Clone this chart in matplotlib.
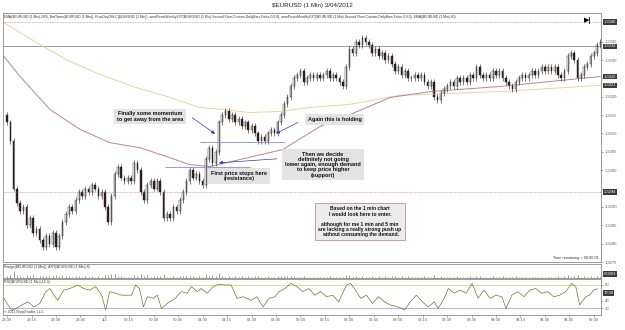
import numpy as np
import matplotlib.pyplot as plt
from matplotlib.transforms import blended_transform_factory

plt.rcParams['font.family'] = ['Liberation Sans', 'DejaVu Sans']

# price data: 2-minute bars starting 23:00, closes in pips above 1.3275
BASE = 1.3275
first_open_pips = 40
close_pips = [
    38, 33, 20, 16, 14, 15, 10, 12, 8, 9,
    6, 4, 7, 5, 8, 4, 7, 11, 13, 15,
    14, 17, 19, 18, 20, 19, 21, 20, 18, 19,
    15, 11, 18, 24, 26, 23, 22, 23, 22, 27,
    25, 19, 17, 21, 22, 20, 22, 19, 12, 13,
    12, 15, 14, 17, 19, 22, 25, 23, 24, 22,
    21, 28, 31, 27, 30, 38, 40, 41, 39, 40,
    38, 39, 37, 38, 36, 37, 35, 33, 34, 33,
    35, 36, 35, 38, 40, 43, 45, 48, 50, 51,
    52, 49, 50, 51, 50, 51, 50, 51, 52, 50,
    51, 50, 49, 48, 53, 58, 57, 60, 59, 61,
    60, 59, 57, 58, 56, 57, 55, 56, 54, 52,
    53, 51, 52, 50, 50, 51, 50, 51, 49, 48,
    49, 45, 44, 46, 47, 48, 49, 48, 50, 49,
    50, 49, 51, 50, 53, 51, 50, 51, 50, 52,
    51, 52, 50, 49, 48, 47, 49, 50, 51, 50,
    51, 52, 51, 52, 53, 52, 53, 52, 53, 51,
    50, 52, 56, 57, 55, 50, 51, 53, 54, 56,
    57, 59, 60,
]
wick_pips = 0.8

# moving averages (minute, price)
ema200_min = [-2.5, 22, 38.7, 57, 77, 98, 118, 132.5, 149, 167.5, 186, 210, 241, 302.5, 364]
ema200_val = [1.33403, 1.33337, 1.33296, 1.33261, 1.33228, 1.33201, 1.33171, 1.33165,
              1.33157, 1.33160, 1.33171, 1.33179, 1.33204, 1.33214, 1.33231]
ema90_min = [-2.5, 8, 26.4, 44.8, 63, 81.6, 98, 112, 124.5, 169, 192, 215, 235, 259.5, 302.5, 364]
ema90_val = [1.33313, 1.33255, 1.33165, 1.33111, 1.33075, 1.33061, 1.33037, 1.33015,
             1.33010, 1.33056, 1.33119, 1.33160, 1.33198, 1.33214, 1.33228, 1.33255]

# RSI (minute, value)
rsi_min = [-1.9, 0.6, 3.0, 5.5, 9.1, 12.8, 16.5, 20.1, 23.8, 26.3, 28.7, 31.1, 34.8, 38.5,
           43.4, 47.0, 50.7, 54.4, 58.0, 60.5, 62.9, 66.6, 70.2, 73.9, 76.4, 78.8, 81.2,
           83.7, 86.1, 89.8, 92.2, 94.7, 98.3, 103.2, 106.9, 110.6, 113.0, 116.7, 119.1,
           122.8, 126.5, 130.1, 133.8, 137.5, 141.1, 144.8, 149.7, 153.3, 157.0, 160.7,
           164.3, 166.8, 170.5, 174.1, 177.8, 181.4, 185.1, 188.8, 192.4, 196.1, 199.8,
           203.4, 208.3, 210.8, 214.4, 216.9, 220.5, 224.2, 227.9, 231.5, 235.2, 240.1,
           243.8, 247.4, 251.1, 254.8, 258.4, 262.1, 264.5, 268.2, 270.7, 274.3, 278.0,
           281.6, 285.3, 289.0, 292.6, 296.3, 300.0, 303.6, 306.1, 309.7, 313.4, 317.1,
           320.7, 324.4, 328.1, 331.7, 335.4, 339.1, 342.7, 346.4, 348.9, 351.3, 355.0,
           357.4, 359.9, 362.3]
rsi_val = [46, 29, 16, 20, 29, 37, 24, 33, 63, 71, 54, 41, 67, 71,
           80, 71, 67, 76, 54, 16, 63, 59, 54, 54, 54, 80, 71,
           24, 50, 46, 54, 20, 33, 46, 63, 59, 76, 63, 71,
           59, 76, 82, 80, 80, 46, 50, 41, 50, 24, 46,
           50, 63, 71, 84, 76, 63, 71, 54, 63, 50, 54,
           37, 80, 84, 63, 46, 54, 33, 50, 37, 29, 24,
           16, 37, 54, 37, 24, 37, 20, 46, 71, 59, 67,
           59, 84, 46, 67, 46, 54, 50, 20, 54, 63, 50,
           67, 71, 59, 63, 50, 54, 63, 84, 76, 29, 50,
           54, 67, 70]

prior_high = 1.33403
prior_low = 1.32941
last_price = 1.33337

tick_minutes = list(range(0, 361, 15))
tick_labels = ["23:00", "23:15", "23:30", "23:45", "4/3", "00:15", "00:30", "00:45",
               "01:00", "01:15", "01:30", "01:45", "02:00", "02:15", "02:30", "02:45",
               "03:00", "03:15", "03:30", "03:45", "04:00", "04:15", "04:30", "04:45", "05:00"]
price_ticks = [1.3275 + 0.0005 * k for k in range(13)]
hidden_ticks = [1.3295, 1.3325]

header = ("EMA($EURUSD (1 Min),200), BarTimer($EURUSD (1 Min)), PriorDayOHLC($EURUSD (1 Min)), "
          "amaPivotsWeeklyV37($EURUSD (1 Min),Second Floor,Custom,DailyBars,False,0,0,0), "
          "amaPivotsMonthlyV37($EURUSD (1 Min),Second Floor,Custom,DailyBars,False,0,0,0), "
          "EMA($EURUSD (1 Min),90)")

closes = BASE + np.array(close_pips) / 10000
opens = np.r_[BASE + first_open_pips / 10000, closes[:-1]]
highs = np.maximum(opens, closes) + wick_pips / 10000
lows = np.minimum(opens, closes) - wick_pips / 10000
bar_min = np.arange(len(closes)) * 2.0

fig = plt.figure(figsize=(6.25, 3.3), dpi=100)
fig.patch.set_facecolor('white')
L, W = 3 / 625, 598 / 625
ax = fig.add_axes([L, 1 - 262 / 330, W, 249 / 330])
axv = fig.add_axes([L, 1 - 278 / 330, W, 14 / 330])
axr = fig.add_axes([L, 1 - 315 / 330, W, 36 / 330])

XL = (-2.5, 364.4)
for a in (ax, axv, axr):
    a.set_xlim(*XL)
    for s in a.spines.values():
        s.set_color('#8c8c8c')
        s.set_linewidth(0.6)
    a.yaxis.tick_right()
    a.tick_params(axis='y', labelsize=3, colors='#606060', length=1.5, width=0.4, pad=1)
    a.tick_params(axis='x', length=0)
    a.set_xticks([])

# main price panel
ax.set_ylim(1.3275, 1.33428)
ax.set_yticks(price_ticks)
ax.set_yticklabels(["" if any(abs(p - h) < 1e-6 for h in hidden_ticks) else f"{p:.4f}"
                    for p in price_ticks])

ax.axhline(prior_high, color='#c99aa6', lw=0.6, ls=(0, (1, 1)))
ax.axhline(prior_low, color='#c99aa6', lw=0.6, ls=(0, (1, 1)))
ax.axhline(last_price, color='#8a8a8a', lw=0.6)

ax.plot(ema200_min, ema200_val, color='#e6d49a', lw=0.7)
ax.plot(ema90_min, ema90_val, color='#b98593', lw=0.7)

up = closes >= opens
ax.vlines(bar_min, lows, highs, color='#1a1a1a', lw=0.4)
body_h = np.maximum(np.abs(closes - opens), 0.00002)
ax.bar(bar_min[up], body_h[up], bottom=np.minimum(opens, closes)[up], width=1.0,
       color='white', edgecolor='#1a1a1a', linewidth=0.3)
ax.bar(bar_min[~up], body_h[~up], bottom=np.minimum(opens, closes)[~up], width=1.0,
       color='#4a1c1c', edgecolor='#1a1a1a', linewidth=0.3)

# support / resistance lines
ax.hlines(1.33078, 118.4, 170.5, color='#8a8ad8', lw=0.6)
ax.hlines(1.33010, 97, 149, color='#8a8ad8', lw=0.6)

arrow = dict(arrowstyle='-|>', color='#3838b8', lw=0.5, mutation_scale=5, shrinkA=0, shrinkB=0)
ax.annotate('', xy=(127.6, 1.33099), xytext=(113.5, 1.33143), arrowprops=arrow)
ax.annotate('', xy=(165, 1.33100), xytext=(178.5, 1.33130), arrowprops=arrow)
ax.annotate('', xy=(130, 1.33020), xytext=(165.6, 1.33031), arrowprops=arrow)

box = dict(boxstyle='square,pad=0.5', facecolor='#e3e3e3', edgecolor='none')
tkw = dict(fontsize=4, fontweight='bold', ha='center', va='center', color='#111111',
           linespacing=1.05)
ax.text(87.7, 1.33146, "Finally some momentum\nto get away from the area", bbox=box, **tkw)
ax.text(201, 1.33138, "Again this is holding", bbox=box, **tkw)
ax.text(142.3, 1.32985, "First price stops here\n(resistance)", bbox=box, **tkw)
ax.text(193.9, 1.33015, "Then we decide\ndefinitely not going\nlower again, enough demand\n"
        "to keep price higher\n(support)", bbox=box, **tkw)
ax.text(216.6, 1.32859, "Based on the 1 min chart\nI would look here to enter.\n\n"
        "although for me 1 min and 5 min\nare lacking a really strong push up\n"
        "without consuming the demand.",
        bbox=dict(boxstyle='square,pad=0.6', facecolor='#ececec', edgecolor='#c48a9a', lw=0.6),
        **dict(tkw, fontsize=3.6))

ax.text(0.002, 0.99, header, transform=ax.transAxes, fontsize=2.4, va='top', ha='left',
        color='#333333', parse_math=False)
ax.text(0.985, 0.985, "\u25b6|", transform=ax.transAxes, fontsize=5, fontweight='bold',
        va='top', ha='right', family=['DejaVu Sans'])
ax.text(0.996, 0.008, "Time remaining = 00:00:01", transform=ax.transAxes, fontsize=2.8,
        ha='right', va='bottom', color='#333333')

tr = blended_transform_factory(ax.transAxes, ax.transData)
for val, txt in [(prior_high, "1.3340"), (last_price, "1.3334"), (1.33255, "1.3325"),
                 (1.33231, "1.3323"), (prior_low, "1.3294")]:
    ax.text(1.004, val, txt, transform=tr, fontsize=3, color='white', va='center', ha='left',
            bbox=dict(boxstyle='square,pad=0.2', facecolor='#3a3a3a', edgecolor='none'),
            clip_on=False)

# range panel
ranges = highs - lows
axv.vlines(bar_min, 0, ranges, color='#707070', lw=0.5)
axv.set_ylim(0, ranges.max() * 1.9)
axv.set_yticks([])
axv.text(0.002, 0.95, "Range($EURUSD (1 Min)), ATR($EURUSD (1 Min),8)", transform=axv.transAxes,
         fontsize=2.6, va='top', ha='left', color='#333333', parse_math=False)
axv.text(1.004, 0.3, "0.0003", transform=axv.transAxes, fontsize=3, color='white',
         va='center', ha='left', clip_on=False,
         bbox=dict(boxstyle='square,pad=0.2', facecolor='#3a3a3a', edgecolor='none'))

# RSI panel
axr.set_ylim(3.4, 95.3)
axr.axhline(80, color='#e0d48c', lw=0.6)
axr.axhline(20, color='#c79ad0', lw=0.6)
axr.plot(rsi_min, rsi_val, color='#5e7d2a', lw=0.5)
axr.set_yticks([20, 40, 80])
axr.text(0.002, 0.97, "RSI($EURUSD (1 Min),14,3)", transform=axr.transAxes, fontsize=2.6,
         va='top', ha='left', color='#333333', parse_math=False)
axr.text(0.002, 0.03, "\u00a9 2011 NinjaTrader, LLC", transform=axr.transAxes, fontsize=2.6,
         va='bottom', ha='left', color='#333333')
axr.text(1.004, 60, f"{rsi_val[-1]:.2f}",
         transform=blended_transform_factory(axr.transAxes, axr.transData),
         fontsize=3, color='white', va='center', ha='left', clip_on=False,
         bbox=dict(boxstyle='square,pad=0.2', facecolor='#3a3a3a', edgecolor='none'))
axr.set_xticks(tick_minutes)
axr.set_xticklabels(tick_labels)
axr.tick_params(axis='x', labelsize=3, colors='#606060', length=1.5, width=0.4, pad=1)

fig.text(0.5, 1 - 6 / 330, "$EURUSD (1 Min) 3/04/2012", ha='center', va='center',
         fontsize=4.5, color='#222222', parse_math=False)

fig.savefig('out.png', dpi=100, facecolor='white')
